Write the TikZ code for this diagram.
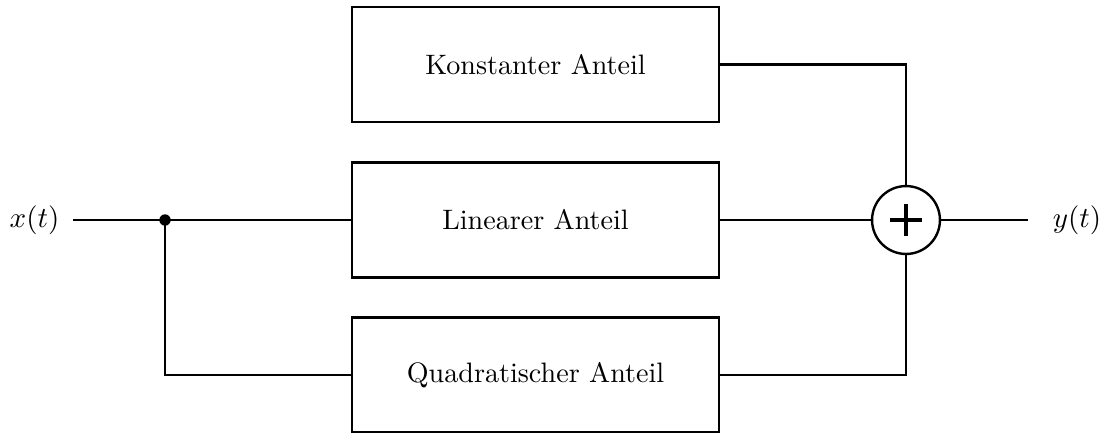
\documentclass[tikz,border=0pt]{standalone}
\usetikzlibrary{calc}
\begin{document}
\begin{tikzpicture}[x=0.377pt,y=-0.377pt,
  every node/.style={font=\fontsize{10.6pt}{12.7pt}\selectfont},
  blockbox/.style={draw,line width=0.9pt,minimum width=138.4pt,minimum height=43.4pt,inner sep=0pt,anchor=center},
  conn/.style={line width=0.9pt},
  sumnode/.style={draw,line width=0.9pt,circle,minimum size=25.6pt,inner sep=0pt},
  dotnode/.style={circle,fill,inner sep=0pt,minimum size=4.3pt},
  lbl/.style={inner sep=0pt}]
\useasboundingbox (0,0) rectangle (1104,432);
\node[blockbox] (k) at (535.5,64.5) {Konstanter Anteil};
\node[blockbox] (l) at (535.5,220) {Linearer Anteil};
\node[blockbox] (q) at (535.5,375) {Quadratischer Anteil};
\node[sumnode] (s) at (906,220) {};
\draw[line width=1.5pt] ($(s.center)+(-16,0)$) -- ($(s.center)+(16,0)$);
\draw[line width=1.5pt] ($(s.center)+(0,-16)$) -- ($(s.center)+(0,16)$);
\node[lbl] (x) at (34.5,220) {$x(t)$};
\node[lbl] (y) at (1077,220) {$y(t)$};
\coordinate (xs) at (73,220);
\coordinate (ye) at (1028,220);
\node[dotnode] (j) at (165,220) {};
\draw[conn] (xs) -- (l.west);
\draw[conn] (j.center) |- (q.west);
\draw[conn] (l.east) -- (s.west);
\draw[conn] (k.east) -| (s.north);
\draw[conn] (q.east) -| (s.south);
\draw[conn] (s.east) -- (ye);
\end{tikzpicture}
\end{document}
